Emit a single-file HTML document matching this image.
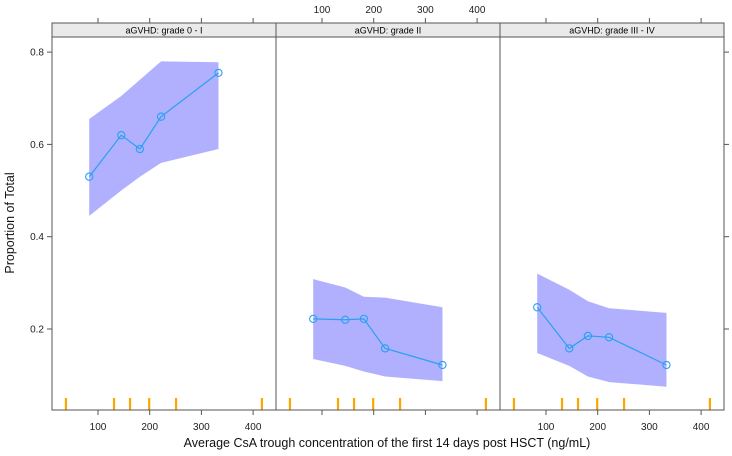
<!DOCTYPE html>
<html><head><meta charset="utf-8"><style>
body{margin:0;background:#fff}
svg{display:block;font-family:"Liberation Sans",Arial,sans-serif}
</style></head><body>
<svg id="chart" width="732" height="456"></svg>
<script>
const panels=["aGVHD: grade 0 - I","aGVHD: grade II","aGVHD: grade III - IV"];
const xs=[83,145,181,222,333];
const propG01=[0.53,0.62,0.59,0.66,0.755];
const upG01=[0.655,0.705,0.74,0.78,0.778];
const loG01=[0.445,0.50,0.53,0.56,0.59];
const propG2=[0.222,0.22,0.222,0.158,0.122];
const upG2=[0.308,0.29,0.27,0.268,0.247];
const loG2=[0.135,0.12,0.108,0.097,0.087];
const propG34=[0.247,0.158,0.185,0.182,0.122];
const upG34=[0.32,0.285,0.26,0.245,0.235];
const loG34=[0.148,0.12,0.097,0.085,0.075];
const rug=[38,131,162,199,251,417];
const xTicks=[100,200,300,400];
const yTicks=[0.2,0.4,0.6,0.8];
const series=[[propG01,upG01,loG01],[propG2,upG2,loG2],[propG34,upG34,loG34]];
const NS="http://www.w3.org/2000/svg";
const svg=document.getElementById('chart');
const pL=[52,276,500],pW=224,plotTop=37,bot=410,stripTop=23;
function X(p,v){return pL[p]+46+(v-100)*0.517;}
function Y(v){return 329-(v-0.2)*461.5;}
function el(t,a,parent){const e=document.createElementNS(NS,t);for(const k in a)e.setAttribute(k,a[k]);(parent||svg).appendChild(e);return e;}
for(let p=0;p<3;p++){
  const g=el('g',{});
  
  
  const [pr,up,lo]=series[p];
  let pts=xs.map((x,i)=>X(p,x)+','+Y(up[i]));
  for(let i=xs.length-1;i>=0;i--)pts.push(X(p,xs[i])+','+Y(lo[i]));
  const band=el('polygon',{points:pts.join(' '),fill:'#b0b0ff'},g);
  
  
  const line=el('polyline',{points:xs.map((x,i)=>X(p,x)+','+Y(pr[i])).join(' '),fill:'none',stroke:'#2aa0f0','stroke-width':1.2},g);
  
  
  xs.forEach((x,i)=>{
    const c=el('circle',{cx:X(p,x),cy:Y(pr[i]),r:3.6,fill:'none',stroke:'#2aa0f0','stroke-width':1.1},g);
    
    
  });
  rug.forEach(v=>{
    const r=el('line',{x1:X(p,v),x2:X(p,v),y1:398,y2:410,stroke:'#ffa500','stroke-width':2.2},g);
    
    
  });
  const s=el('rect',{x:pL[p],y:stripTop,width:pW,height:plotTop-stripTop,fill:'#eaeaea',stroke:'#555','stroke-width':1},g);
  
  
  const st=el('text',{x:pL[p]+pW/2,y:stripTop+10.5,'font-size':9,'text-anchor':'middle',fill:'#000'},g);
  st.textContent=panels[p];
  
  
  el('rect',{x:pL[p],y:plotTop,width:pW,height:bot-plotTop,fill:'none',stroke:'#555','stroke-width':1},g);
  xTicks.forEach(v=>{
    const x=X(p,v);
    el('line',{x1:x,x2:x,y1:bot,y2:bot+5,stroke:'#555'},g);
    el('line',{x1:x,x2:x,y1:stripTop,y2:stripTop-5,stroke:'#555'},g);
    const lab=el('text',{x:x,'font-size':10,'text-anchor':'middle',fill:'#222',y:p===1?13:430},g);
    lab.textContent=v;
    
    
  });
}
yTicks.forEach(v=>{
  el('line',{x1:47,x2:52,y1:Y(v),y2:Y(v),stroke:'#555'});
  el('line',{x1:724,x2:729,y1:Y(v),y2:Y(v),stroke:'#555'});
  const t=el('text',{x:44,y:Y(v)+3.5,'font-size':10,'text-anchor':'end',fill:'#222'});
  t.textContent=v.toFixed(1);
  
  
});
const yt=el('text',{x:0,y:0,'font-size':12.5,'text-anchor':'middle',fill:'#111',transform:'translate(14,223) rotate(-90)'});
yt.textContent='Proportion of Total';


const xt=el('text',{x:387,y:447,'font-size':12.5,'text-anchor':'middle',fill:'#111'});
xt.textContent='Average CsA trough concentration of the first 14 days post HSCT (ng/mL)';


</script>
</body></html>
